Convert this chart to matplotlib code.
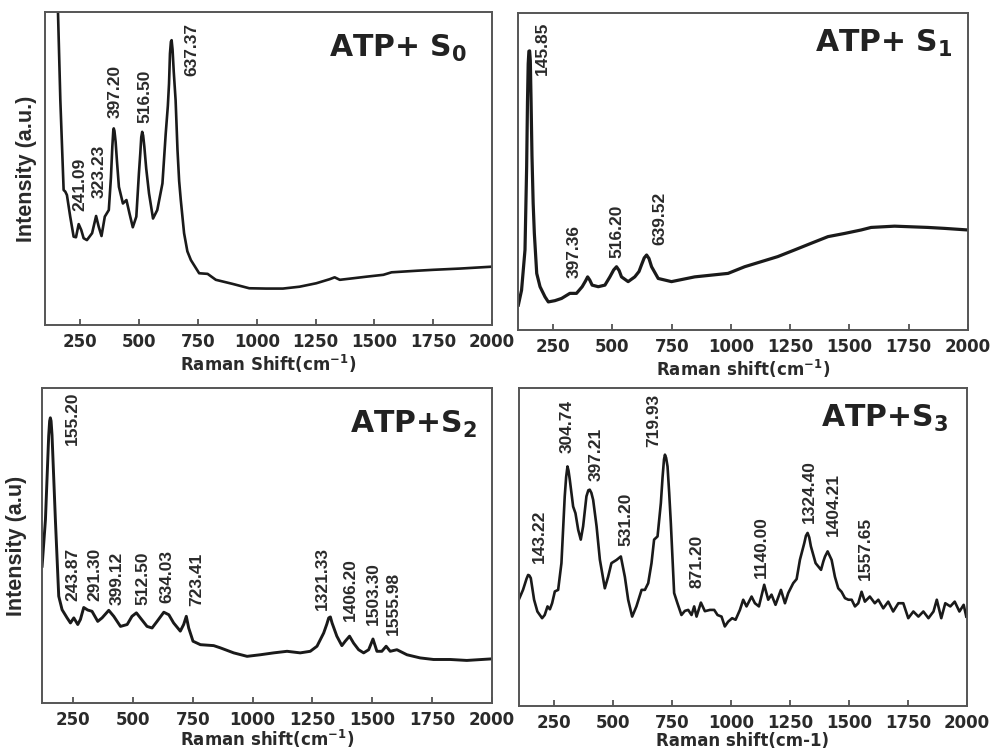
import matplotlib
matplotlib.use("Agg")
import matplotlib.pyplot as plt
from matplotlib.ticker import FixedLocator, FixedFormatter, NullLocator

plt.rcParams['font.family'] = ['DejaVu Sans']
plt.rcParams['font.weight'] = 'bold'
plt.rcParams['mathtext.fontset'] = 'custom'
plt.rcParams['mathtext.rm'] = 'DejaVu Sans:bold'
plt.rcParams['mathtext.bf'] = 'DejaVu Sans:bold'
plt.rcParams['mathtext.it'] = 'DejaVu Sans:bold'
plt.rcParams['mathtext.sf'] = 'DejaVu Sans:bold'
plt.rcParams['mathtext.default'] = 'bf'

# ---------------- data (intensity in % of axis height) ----------------
s0_x = [130, 155, 165, 179, 186, 193, 207, 221.5, 231.5, 243, 254, 264, 278, 300, 317, 328, 340, 354,
        371, 380, 386, 390, 392, 395, 400, 406, 414, 431, 446, 459, 473, 488, 499, 505, 509, 513, 517,
        522, 530, 542, 559, 577, 599, 613, 622, 627, 631, 635, 638, 642, 647, 655, 663, 670, 677, 691,
        705, 720, 755, 791, 826, 897, 968, 1040, 1111, 1182, 1253, 1310, 1331, 1353, 1410, 1466, 1538,
        1573, 1680, 1751, 1865, 2000]
s0_y = [190, 100, 71.8, 43.1, 42.6, 41.5, 34.6, 28.2, 28.0, 32.2, 30.3, 27.7, 27.1, 29.3, 34.8, 31.4,
        28.4, 34.6, 36.7, 47.0, 57.0, 62.0, 62.8, 62.0, 58.5, 52.0, 44.1, 38.8, 39.9, 35.6, 31.2, 34.6,
        48.4, 55.0, 60.0, 61.7, 60.5, 57.0, 50.0, 42.0, 34.0, 36.7, 45.2, 61.2, 70.0, 77.1, 86.7, 90.5,
        91.0, 88.0, 81.0, 71.8, 55.9, 46.0, 39.9, 29.3, 23.5, 20.7, 16.5, 16.3, 14.4, 13.1, 11.7, 11.6,
        11.6, 12.2, 13.3, 14.6, 15.2, 14.4, 14.9, 15.4, 16.0, 16.8, 17.3, 17.6, 18.0, 18.6]

s1_x = [102.4, 116, 130.5, 137.5, 141, 144, 147, 150, 153, 156, 160, 165, 170, 180, 194, 215, 229,
        257, 285, 320, 348, 372, 386, 395, 404, 414, 440, 468, 489, 505, 517, 528, 538, 566, 594, 612,
        622, 634, 644, 654, 665, 693, 749, 847, 988, 1058, 1128, 1198, 1269, 1339, 1410, 1480, 1550,
        1592, 1691, 1761, 1832, 1902, 2000]
s1_y = [7.9, 12.6, 25.3, 51.6, 72.0, 84.0, 88.0, 88.1, 85.0, 73.0, 55.0, 40.0, 30.5, 17.9, 13.7, 10.5,
        8.9, 9.3, 10.0, 11.6, 11.6, 13.7, 15.5, 16.8, 15.8, 14.2, 13.7, 14.2, 16.8, 19.0, 20.0, 18.8,
        16.8, 15.3, 16.8, 18.5, 20.5, 22.8, 23.7, 22.6, 20.0, 16.3, 15.3, 16.8, 17.9, 20.0, 21.6, 23.2,
        25.3, 27.4, 29.5, 30.5, 31.6, 32.4, 32.8, 32.6, 32.4, 32.1, 31.6]

s2_x = [120.5, 134.5, 148, 152, 155, 158, 162, 176, 190, 204, 225, 239, 253, 269.5, 280.6, 294.5, 311,
        329, 353, 371, 399, 420, 448, 476, 496, 514.5, 531, 559, 580, 601, 629, 650, 670, 698, 712,
        723, 733, 751, 782, 837.5, 865, 921, 977, 1032, 1088, 1144, 1199, 1241, 1269, 1297, 1310,
        1318, 1325, 1332, 1352, 1373, 1387, 1405, 1422, 1443, 1464, 1485, 1503, 1519.5, 1540, 1558,
        1575, 1603, 1645, 1700, 1756, 1826, 1895, 2000]
s2_y = [43.4, 58.2, 84.7, 89.5, 90.5, 89.5, 85.0, 58.2, 33.9, 29.6, 27.0, 25.4, 27.0, 24.9, 26.5, 30.3,
        29.5, 29.1, 25.9, 27.0, 29.4, 27.5, 24.3, 24.9, 27.5, 28.6, 27.0, 24.3, 23.8, 25.9, 28.8, 28.0,
        25.4, 22.8, 24.9, 27.5, 23.8, 19.6, 18.5, 18.2, 17.5, 15.9, 14.8, 15.3, 15.9, 16.4, 15.9, 16.4,
        18.0, 22.2, 25.0, 27.0, 27.3, 25.4, 21.2, 18.2, 19.6, 21.2, 19.0, 16.9, 15.9, 16.9, 20.3, 16.4,
        16.4, 18.0, 16.4, 16.9, 15.3, 14.3, 13.8, 13.8, 13.5, 14.0]

s3_x = [100, 118, 133, 139.7, 145, 151, 165, 179, 199, 210, 222, 232, 241.5, 253, 267, 281, 295, 301,
        306.6, 311, 316.5, 330.6, 340.5, 352, 363, 373, 387, 395, 401, 408, 415.5, 430, 444, 465, 479,
        493, 514.5, 533, 550, 564, 581, 599, 621, 635, 649, 663, 674, 688.6, 702.7, 710, 716, 720, 725,
        731, 738, 745, 759, 773, 790, 804.6, 818.7, 832.8, 844, 854, 872.5, 889.4, 910.7, 929, 943,
        960, 974, 988, 1005, 1019.6, 1038, 1052, 1066, 1087.5, 1101.6, 1118.6, 1141, 1158, 1172, 1189,
        1212, 1229, 1243, 1264, 1278.5, 1292.6, 1311, 1318, 1325, 1332, 1339, 1359, 1382, 1392, 1399,
        1410, 1427, 1441, 1455, 1469, 1483.6, 1498, 1512, 1526, 1540, 1554, 1568, 1589, 1610, 1625,
        1646, 1667, 1688, 1710, 1731, 1752, 1773.6, 1795, 1816, 1837.6, 1859, 1873, 1892, 1909, 1930.5,
        1949, 1969, 1987, 1998]
s3_y = [33.4, 36.5, 40.0, 41.2, 41.0, 40.2, 33.4, 29.7, 27.6, 28.6, 31.3, 30.4, 32.3, 36.0, 36.5, 44.9,
        65.9, 72.0, 75.3, 74.0, 71.1, 62.7, 60.6, 55.4, 52.3, 56.5, 65.9, 67.8, 68.0, 67.0, 64.8, 56.5,
        46.0, 37.0, 40.6, 44.9, 45.9, 47.0, 40.6, 33.4, 28.1, 31.3, 36.5, 36.5, 38.6, 44.9, 52.3, 53.3,
        63.8, 72.0, 77.5, 79.0, 78.0, 75.3, 67.0, 57.5, 35.5, 32.3, 28.6, 29.9, 30.2, 28.6, 31.3, 28.1,
        32.5, 29.8, 30.2, 30.2, 28.6, 28.1, 25.0, 26.5, 27.6, 27.1, 30.2, 33.4, 31.3, 34.4, 32.3, 31.3,
        38.1, 33.4, 35.0, 31.8, 36.5, 32.3, 35.5, 38.6, 39.9, 46.0, 51.2, 53.5, 54.4, 53.0, 50.2, 44.9,
        42.8, 45.5, 47.0, 48.6, 45.9, 40.6, 37.0, 35.9, 33.9, 33.4, 33.4, 31.3, 32.3, 35.9, 32.8, 34.4,
        32.3, 33.4, 30.7, 32.8, 29.7, 32.3, 32.3, 27.6, 29.7, 28.1, 29.7, 27.6, 29.7, 33.4, 27.6, 32.3,
        31.3, 32.8, 29.7, 31.8, 28.1]

# peak labels: (text, x, y of label bottom)
s0_peaks = ["241.09", "323.23", "397.20", "516.50", "637.37"]
s0_px = [250, 328, 399, 525, 724]
s0_py = [36.5, 40.7, 66.0, 64.6, 79.5]

s1_peaks = ["145.85", "397.36", "516.20", "639.52"]
s1_px = [205, 339, 517, 700]
s1_py = [80.5, 16.3, 22.6, 26.8]

s2_peaks = ["155.20", "243.87", "291.30", "399.12", "512.50", "634.03", "723.41",
            "1321.33", "1406.20", "1503.30", "1555.98"]
s2_px = [246, 250, 340, 436, 542, 640, 765, 1290, 1408, 1506, 1589]
s2_py = [82.0, 32.3, 32.3, 31.2, 31.2, 31.7, 30.9, 29.6, 25.9, 24.6, 21.7]

s3_peaks = ["143.22", "304.74", "397.21", "531.20", "719.93", "871.20", "1140.00",
            "1324.40", "1404.21", "1557.65"]
s3_px = [186, 305, 430, 553, 674, 858, 1130, 1331, 1434, 1568]
s3_py = [45.1, 79.5, 70.6, 50.2, 81.4, 37.0, 40.2, 57.5, 53.3, 39.7]

x_ticks = [250, 500, 750, 1000, 1250, 1500, 1750, 2000]

# ---------------- figure ----------------
fig = plt.figure(figsize=(9.9, 7.52), dpi=100)

panels = [
    dict(pos=[0.0455, 0.568, 0.4515, 0.416], x=s0_x, y=s0_y, xlim=(100, 2000),
         peaks=(s0_peaks, s0_px, s0_py), title=r'ATP+ S$_{0}$', tpos=(0.944, 0.856),
         xlabel=r'Raman Shift(cm$^{-1}$)', ylabel='Intensity (a.u.)', ylpad=6, lw=1.9, xlpad=1),
    dict(pos=[0.523, 0.561, 0.4545, 0.4215], x=s1_x, y=s1_y, xlim=(100, 2000),
         peaks=(s1_peaks, s1_px, s1_py), title=r'ATP+ S$_{1}$', tpos=(0.967, 0.877),
         xlabel=r'Raman shift(cm$^{-1}$)', ylabel=None, ylpad=0, lw=2.3, xlpad=1),
    dict(pos=[0.0424, 0.0652, 0.4545, 0.419], x=s2_x, y=s2_y, xlim=(120, 2000),
         peaks=(s2_peaks, s2_px, s2_py), title=r'ATP+S$_{2}$', tpos=(0.967, 0.857),
         xlabel=r'Raman shift(cm$^{-1}$)', ylabel='Intensity (a.u)', ylpad=11, lw=2.1, xlpad=-1),
    dict(pos=[0.524, 0.0612, 0.4525, 0.423], x=s3_x, y=s3_y, xlim=(100, 2000),
         peaks=(s3_peaks, s3_px, s3_py), title=r'ATP+S$_{3}$', tpos=(0.958, 0.877),
         xlabel='Raman shift(cm-1)', ylabel=None, ylpad=0, lw=1.9, xlpad=0),
]

for p in panels:
    ax = fig.add_axes(p['pos'])
    ax.plot(p['x'], p['y'], color='#1a1a1a', lw=p['lw'], solid_joinstyle='round')
    ax.set_xlim(*p['xlim'])
    ax.set_ylim(0, 100)
    ax.yaxis.set_major_locator(NullLocator())
    ax.xaxis.set_major_locator(FixedLocator(x_ticks))
    ax.xaxis.set_major_formatter(FixedFormatter([str(t) for t in x_ticks]))
    ax.tick_params(axis='x', which='major', direction='in', length=4, width=1.2,
                   color='#444444', labelsize=12, pad=6, labelcolor='#2a2a2a')
    for lab in ax.get_xticklabels():
        lab.set_fontweight('bold')
        lab.set_fontfamily('DejaVu Sans')
    for s in ax.spines.values():
        s.set_color('#555555')
        s.set_linewidth(1.4)
    ax.set_xlabel(p['xlabel'], fontsize=12, fontweight='bold', color='#2a2a2a',
                  labelpad=p['xlpad'])
    if p['ylabel']:
        ax.set_ylabel(p['ylabel'], fontsize=15.5, fontweight='bold', color='#2a2a2a',
                      labelpad=p['ylpad'], family='Liberation Sans')
    names, pxs, pys = p['peaks']
    for t, xx, yy in zip(names, pxs, pys):
        ax.text(xx, yy, t, rotation=90, ha='center', va='bottom', fontsize=12.5,
                fontweight='bold', color='#2a2a2a', family='Liberation Sans')
    ax.text(p['tpos'][0], p['tpos'][1], p['title'], transform=ax.transAxes, ha='right',
            va='baseline', fontsize=21.5, fontweight='bold', color='#222222')

fig.savefig('out.png', dpi=100)
